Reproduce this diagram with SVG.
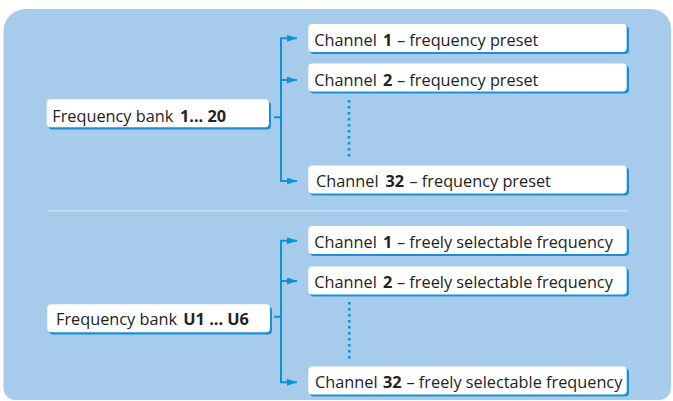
<svg xmlns="http://www.w3.org/2000/svg" width="673" height="401" viewBox="0 0 673 401">
<defs>
<style>
.panel{fill:#a7cbeb}
.sep{stroke:#c6def3;stroke-width:1.5;fill:none}
.shadow{fill:#1b8fd6}
.box{fill:#ffffff}
.t{font-family:"Open Sans","Noto Sans","DejaVu Sans",sans-serif;font-size:16.3px;fill:#222222}
.b{font-weight:700}
.conn{stroke:#0b93da;stroke-width:2;fill:none}
.dots{stroke:#0b93da;stroke-width:2.6;fill:none;stroke-dasharray:2.6 3.4}
</style>
<marker id="arr" markerUnits="userSpaceOnUse" markerWidth="10" markerHeight="7" refX="10" refY="3.5" orient="auto">
<path d="M0,0 L10,3.5 L0,7 Z" fill="#0b93da"/>
</marker>
</defs>
<path class="panel" d="M3.5,31 A22,22 0 0 1 25.5,9 H651 A20,20 0 0 1 671,29 V388 A12,12 0 0 1 659,400 H15.5 A12,12 0 0 1 3.5,388 Z"/>
<line class="sep" x1="48" y1="210.7" x2="628" y2="210.7"/>

<g id="connectors">
<path class="conn" d="M274,117.3 H281 V38.3 H297" marker-end="url(#arr)"/>
<path class="conn" d="M281,117.3 V80 H297" marker-end="url(#arr)"/>
<path class="conn" d="M281,117.3 V181 H297" marker-end="url(#arr)"/>
<path class="dots" d="M349,100 V157"/>
<path class="conn" d="M274,316.7 H281 V240.7 H297" marker-end="url(#arr)"/>
<path class="conn" d="M281,316.7 V281 H297" marker-end="url(#arr)"/>
<path class="conn" d="M281,316.7 V382.3 H297" marker-end="url(#arr)"/>
<path class="dots" d="M349.3,302 V359"/>
</g>

<g id="bank1">
<rect class="shadow" x="48.5" y="101.5" width="222.5" height="28" rx="4"/>
<rect class="box" x="46.7" y="99.3" width="222.3" height="28" rx="4"/>
<text class="t" x="52.3" y="121.8">Frequency bank<tspan class="b" x="180">1... 20</tspan></text>
</g>

<g id="ch1">
<rect class="shadow" x="310" y="26" width="319" height="28" rx="4"/>
<rect class="box" x="308.3" y="24" width="318.4" height="28" rx="4"/>
<text class="t" x="314.3" y="46">Channel<tspan class="b" x="383">1</tspan><tspan x="397">– frequency preset</tspan></text>
</g>

<g id="ch2">
<rect class="shadow" x="310" y="65.5" width="319" height="28" rx="4"/>
<rect class="box" x="308.3" y="63.5" width="318.4" height="28" rx="4"/>
<text class="t" x="314.3" y="85.5">Channel<tspan class="b" x="383">2</tspan><tspan x="397">– frequency preset</tspan></text>
</g>

<g id="ch32">
<rect class="shadow" x="310" y="167.5" width="319" height="28" rx="4"/>
<rect class="box" x="308.3" y="165.5" width="318.4" height="28" rx="4"/>
<text class="t" x="316" y="187.2">Channel<tspan class="b" x="385.5">32</tspan><tspan x="409.5">– frequency preset</tspan></text>
</g>

<g id="bank2">
<rect class="shadow" x="49" y="306.5" width="223" height="28" rx="4"/>
<rect class="box" x="47.3" y="304.3" width="222.7" height="28" rx="4"/>
<text class="t" x="56" y="325">Frequency bank<tspan class="b" x="183.3">U1 ... U6</tspan></text>
</g>

<g id="ch1u">
<rect class="shadow" x="310" y="228" width="319" height="28" rx="4"/>
<rect class="box" x="308.3" y="226" width="318.4" height="28" rx="4"/>
<text class="t" x="314.3" y="247.7">Channel<tspan class="b" x="383">1</tspan><tspan x="397">– freely selectable frequency</tspan></text>
</g>

<g id="ch2u">
<rect class="shadow" x="310" y="268.5" width="319" height="28" rx="4"/>
<rect class="box" x="308.3" y="266.5" width="318.4" height="28" rx="4"/>
<text class="t" x="314.3" y="288.2">Channel<tspan class="b" x="383">2</tspan><tspan x="397">– freely selectable frequency</tspan></text>
</g>

<g id="ch32u">
<rect class="shadow" x="310" y="368.5" width="319" height="28" rx="4"/>
<rect class="box" x="308.3" y="366.5" width="318.4" height="28" rx="4"/>
<text class="t" x="315" y="388.2">Channel<tspan class="b" x="383">32</tspan><tspan x="406.5">– freely selectable frequency</tspan></text>
</g>
</svg>
